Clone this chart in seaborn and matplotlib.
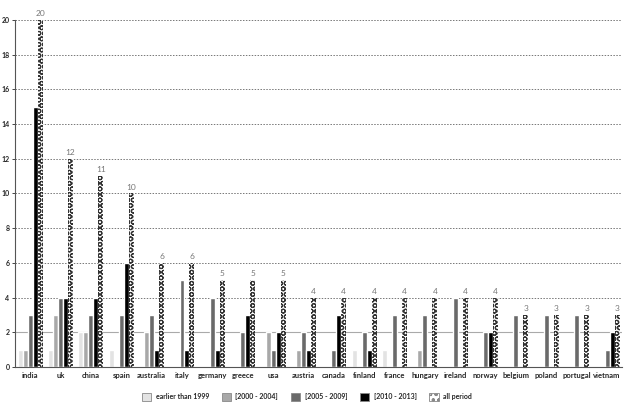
import numpy as np
import pandas as pd
import seaborn as sns
import matplotlib.pyplot as plt
from matplotlib.patches import Patch
from matplotlib.ticker import FixedLocator

countries = ["india", "uk", "china", "spain", "australia", "italy", "germany", "greece",
             "usa", "austria", "canada", "finland", "france", "hungary", "ireland",
             "norway", "belgium", "poland", "portugal", "vietnam"]
periods = ["earlier than 1999", "[2000 - 2004]", "[2005 - 2009]", "[2010 - 2013]", "all period"]
earlier = [1, 1, 2, 1, 0, 0, 0, 0, 0, 0, 0, 1, 1, 0, 0, 0, 0, 0, 0, 0]
p2000 = [1, 3, 2, 0, 2, 0, 0, 0, 2, 1, 0, 0, 0, 1, 0, 0, 0, 0, 0, 0]
p2005 = [3, 4, 3, 3, 3, 5, 4, 2, 1, 2, 1, 2, 3, 3, 4, 2, 3, 3, 3, 1]
p2010 = [15, 4, 4, 6, 1, 1, 1, 3, 2, 1, 3, 1, 0, 0, 0, 2, 0, 0, 0, 2]
allp = [20, 12, 11, 10, 6, 6, 5, 5, 5, 4, 4, 4, 4, 4, 4, 4, 3, 3, 3, 3]
yticks = list(range(0, 21, 2))

rows = []
for series, name in zip([earlier, p2000, p2005, p2010, allp], periods):
    for c, v in zip(countries, series):
        rows.append({"country": c, "period": name, "value": v})
df = pd.DataFrame(rows)

colors = ["#e3e3e3", "#a8a8a8", "#6a6a6a", "#000000", "#ffffff"]
sns.set_style("white")
plt.rcParams['font.family'] = ['Lato', 'DejaVu Sans']
plt.rcParams['hatch.linewidth'] = 0.8

fig = plt.figure(figsize=(6.26, 4.09), dpi=100)
ax = fig.add_axes([0.024, 0.103, 0.970, 0.848])
sns.barplot(data=df, x="country", y="value", hue="period", hue_order=periods,
            palette=colors, width=0.82, ax=ax, legend=False, saturation=1)

last = ax.containers[-1]
for p in last:
    p.set_facecolor("white")
    p.set_edgecolor("#333333")
    p.set_hatch("OOO")
    p.set_linewidth(0)
ax.bar_label(last, labels=[str(v) for v in allp], padding=2, fontsize=6, color="#777777")

ax.set_ylim(0, 20)
ax.set_xlim(-0.5, len(countries) - 0.5)
ax.set_yticks(yticks)
ax.set_yticklabels([str(t) for t in yticks], fontsize=5, fontweight="bold")
ax.set_xticks(range(len(countries)))
ax.set_xticklabels(countries, fontsize=5.5, fontweight="bold")
ax.xaxis.set_minor_locator(FixedLocator(np.arange(0.5, len(countries) - 0.5, 1)))
ax.tick_params(axis="x", which="major", length=0, pad=4)
ax.tick_params(axis="x", which="minor", length=3, width=0.8, color="#333333", direction="in")
ax.tick_params(axis="y", length=2, width=0.6, pad=2, left=True)
ax.set_xlabel("")
ax.set_ylabel("")
for y in yticks[1:]:
    if y == 2:
        ax.axhline(y, color="#aaaaaa", lw=0.8, zorder=0)
    else:
        ax.axhline(y, color="#777777", lw=0.7, ls=(0, (1.5, 1.5)), zorder=0)
sns.despine(ax=ax, top=True, right=True)
ax.spines["left"].set_color("#555555")
ax.spines["bottom"].set_color("#555555")
ax.spines["left"].set_linewidth(0.8)
ax.spines["bottom"].set_linewidth(0.8)

handles = [Patch(facecolor=c, edgecolor="#888888", linewidth=0.6) for c in colors[:4]]
handles.append(Patch(facecolor="white", edgecolor="#888888", hatch="ooo", linewidth=0.6))
leg = fig.legend(handles, periods, loc="lower center", bbox_to_anchor=(0.49, 0.005), ncol=5,
                 frameon=False, fontsize=5, handlelength=1.4, handleheight=1.4,
                 columnspacing=1.8, handletextpad=0.6)
for t in leg.get_texts():
    t.set_fontweight("bold")

fig.savefig("out.png", dpi=100)
